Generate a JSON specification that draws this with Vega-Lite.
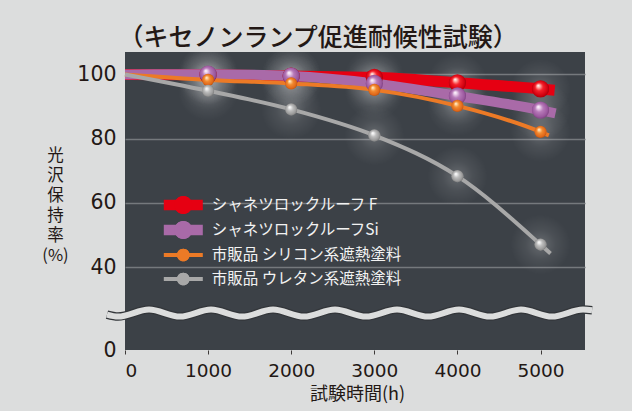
{
  "$schema": "https://vega.github.io/schema/vega-lite/v6.json",
  "width": 460,
  "height": 298,
  "autosize": "none",
  "padding": {"left": 125, "top": 52, "right": 47, "bottom": 61},
  "background": "#dcdddd",
  "title": {
    "text": "（キセノンランプ促進耐候性試験）",
    "font": "Noto Sans CJK JP",
    "fontSize": 25,
    "fontWeight": 500,
    "color": "#231815",
    "anchor": "middle",
    "dx": -37,
    "offset": 1.5
  },
  "datasets": {
    "series": [
      {"series": "シャネツロックルーフ F", "x": 0, "y": 100},
      {"series": "シャネツロックルーフ F", "x": 1000, "y": 99.9},
      {"series": "シャネツロックルーフ F", "x": 2000, "y": 99.5},
      {"series": "シャネツロックルーフ F", "x": 3000, "y": 99.1},
      {"series": "シャネツロックルーフ F", "x": 4000, "y": 97.4},
      {"series": "シャネツロックルーフ F", "x": 5000, "y": 95.5},
      {"series": "シャネツロックルーフ F", "x": 5170, "y": 95.1},
      {"series": "シャネツロックルーフSi", "x": 0, "y": 100},
      {"series": "シャネツロックルーフSi", "x": 1000, "y": 100.1},
      {"series": "シャネツロックルーフSi", "x": 2000, "y": 99.5},
      {"series": "シャネツロックルーフSi", "x": 3000, "y": 97.2},
      {"series": "シャネツロックルーフSi", "x": 4000, "y": 93.3},
      {"series": "シャネツロックルーフSi", "x": 5000, "y": 88.9},
      {"series": "シャネツロックルーフSi", "x": 5180, "y": 87.9},
      {"series": "市販品 シリコン系遮熱塗料", "x": 0, "y": 100},
      {"series": "市販品 シリコン系遮熱塗料", "x": 1000, "y": 98.3},
      {"series": "市販品 シリコン系遮熱塗料", "x": 2000, "y": 97.2},
      {"series": "市販品 シリコン系遮熱塗料", "x": 3000, "y": 95.2},
      {"series": "市販品 シリコン系遮熱塗料", "x": 4000, "y": 90.2},
      {"series": "市販品 シリコン系遮熱塗料", "x": 5000, "y": 82.1},
      {"series": "市販品 シリコン系遮熱塗料", "x": 5100, "y": 81.0},
      {"series": "市販品 ウレタン系遮熱塗料", "x": 0, "y": 100},
      {"series": "市販品 ウレタン系遮熱塗料", "x": 1000, "y": 94.9},
      {"series": "市販品 ウレタン系遮熱塗料", "x": 2000, "y": 89.1},
      {"series": "市販品 ウレタン系遮熱塗料", "x": 3000, "y": 81.0},
      {"series": "市販品 ウレタン系遮熱塗料", "x": 4000, "y": 68.3},
      {"series": "市販品 ウレタン系遮熱塗料", "x": 5000, "y": 47.0},
      {"series": "市販品 ウレタン系遮熱塗料", "x": 5120, "y": 44.2}
    ],
    "wave": [
      {"x": -217, "y": 17.05},
      {"x": -84, "y": 16.1},
      {"x": 289, "y": 19.5},
      {"x": 662, "y": 16.1},
      {"x": 1035, "y": 19.5},
      {"x": 1408, "y": 16.1},
      {"x": 1781, "y": 19.5},
      {"x": 2154, "y": 16.1},
      {"x": 2527, "y": 19.5},
      {"x": 2900, "y": 16.1},
      {"x": 3273, "y": 19.5},
      {"x": 3646, "y": 16.1},
      {"x": 4019, "y": 19.5},
      {"x": 4392, "y": 16.1},
      {"x": 4765, "y": 19.5},
      {"x": 5138, "y": 16.1},
      {"x": 5511, "y": 19.5},
      {"x": 5620, "y": 19.2}
    ]
  },
  "encoding": {
    "x": {
      "field": "x",
      "type": "quantitative",
      "scale": {"domain": [0, 5535], "nice": false, "zero": false},
      "axis": {
        "values": [0, 1000, 2000, 3000, 4000, 5000],
        "format": "d",
        "title": "試験時間(h)",
        "grid": false,
        "domain": false,
        "ticks": true,
        "tickSize": 4,
        "tickColor": "#3e3a39",
        "tickWidth": 1,
        "labelFont": "DejaVu Sans",
        "labelFontSize": 18.5,
        "labelColor": "#231815",
        "labelPadding": 7,
        "titleFont": "Noto Sans CJK JP",
        "titleFontSize": 18,
        "titleFontWeight": "normal",
        "titleColor": "#231815",
        "titleX": 232,
        "titleY": 44.5,
        "titleBaseline": "middle"
      }
    },
    "y": {
      "field": "y",
      "type": "quantitative",
      "scale": {"domain": [0, 40, 107], "range": [298, 215, 0], "nice": false, "zero": false},
      "axis": {
        "values": [0, 40, 60, 80, 100],
        "title": ["光", "沢", "保", "持", "率", "(%)"],
        "titleAngle": 0,
        "titleAlign": "center",
        "titleBaseline": "top",
        "titleX": -70,
        "titleY": 95,
        "titleLineHeight": 20,
        "titleFont": "Noto Sans CJK JP",
        "titleFontSize": 16.5,
        "titleFontWeight": "normal",
        "titleColor": "#231815",
        "domain": false,
        "ticks": false,
        "tickSize": 0,
        "labelPadding": 9,
        "labelFont": "DejaVu Sans",
        "labelFontSize": 20.5,
        "labelColor": "#231815",
        "grid": true,
        "gridColor": "#75797d",
        "gridWidth": 1.3,
        "gridOpacity": {"condition": {"test": "datum.value === 0", "value": 0}, "value": 1}
      }
    }
  },
  "layer": [
    {
      "data": {"name": "series"},
      "transform": [{"filter": "datum.x >= 1000 && datum.x <= 5000"}],
      "mark": {
        "type": "point",
        "filled": true,
        "shape": "circle",
        "size": 3600,
        "clip": true,
        "strokeWidth": 0,
        "opacity": 1,
        "fill": {
          "gradient": "radial",
          "x1": 0.5, "y1": 0.5, "r1": 0,
          "x2": 0.5, "y2": 0.5, "r2": 0.5,
          "stops": [
            {"offset": 0, "color": "rgba(255,255,255,0.22)"},
            {"offset": 0.5, "color": "rgba(255,255,255,0.08)"},
            {"offset": 1, "color": "rgba(255,255,255,0)"}
          ]
        }
      }
    },
    {
      "data": {"name": "series"},
      "mark": {"type": "line", "interpolate": "monotone", "strokeCap": "butt"},
      "encoding": {
        "stroke": {
          "field": "series",
          "type": "nominal",
          "scale": {
            "domain": ["シャネツロックルーフ F", "シャネツロックルーフSi", "市販品 シリコン系遮熱塗料", "市販品 ウレタン系遮熱塗料"],
            "range": ["#e60012", "#a96aa8", "#ec7a26", "#a8a8a8"]
          },
          "legend": {
            "orient": "none",
            "legendX": 42.8,
            "legendY": 137.5,
            "title": null,
            "padding": 0,
            "symbolSize": 961,
            "symbolStrokeWidth": 0,
            "rowPadding": 0,
            "labelOffset": 12.9,
            "labelFont": "Noto Sans CJK JP",
            "labelFontSize": 15.5,
            "labelColor": "#f2f2f2",
            "labelLimit": 400,
            "zindex": 1,
            "encode": {
              "symbols": {
                "update": {
                  "shape": {"signal": "datum.index < 2 ? 'M-1.258,-0.345H1.258V0.345H-1.258Z M0.58,0A0.58,0.58,0,1,1,-0.58,0A0.58,0.58,0,1,1,0.58,0Z' : 'M-1.258,-0.129H1.258V0.129H-1.258Z M0.406,0A0.406,0.406,0,1,1,-0.406,0A0.406,0.406,0,1,1,0.406,0Z'"},
                  "fill": {"scale": "stroke", "field": "value"},
                  "stroke": {"value": "transparent"},
                  "strokeWidth": {"value": 0},
                  "opacity": {"value": 1},
                  "fillOpacity": {"value": 1}
                }
              }
            }
          }
        },
        "strokeWidth": {
          "field": "series",
          "type": "nominal",
          "scale": {
            "type": "ordinal",
            "domain": ["シャネツロックルーフ F", "シャネツロックルーフSi", "市販品 シリコン系遮熱塗料", "市販品 ウレタン系遮熱塗料"],
            "range": [11, 10, 4, 4]
          },
          "legend": null
        }
      }
    },
    {
      "data": {"name": "series"},
      "transform": [{"filter": "datum.x >= 1000 && datum.x <= 5000"}],
      "mark": {"type": "point", "filled": true, "shape": "circle", "strokeWidth": 0, "opacity": 0, "size": 150},
      "encoding": {
        "fill": {
          "field": "series",
          "type": "nominal",
          "scale": {
            "domain": ["シャネツロックルーフ F", "シャネツロックルーフSi", "市販品 シリコン系遮熱塗料", "市販品 ウレタン系遮熱塗料"],
            "range": ["#e60012", "#a96aa8", "#ec7a26", "#a8a8a8"]
          },
          "legend": {
            "orient": "none",
            "legendX": 42.8,
            "legendY": 137.5,
            "title": null,
            "padding": 0,
            "symbolSize": 961,
            "symbolStrokeWidth": 0,
            "rowPadding": 0,
            "labelOffset": 12.9,
            "labelFont": "Noto Sans CJK JP",
            "labelFontSize": 15.5,
            "labelColor": "#f2f2f2",
            "labelOpacity": 0,
            "labelLimit": 400,
            "zindex": 2,
            "encode": {
              "symbols": {
                "update": {
                  "shape": {"signal": "datum.index < 2 ? 'M0.58,0A0.58,0.58,0,1,1,-0.58,0A0.58,0.58,0,1,1,0.58,0Z' : 'M0.406,0A0.406,0.406,0,1,1,-0.406,0A0.406,0.406,0,1,1,0.406,0Z'"},
                  "fill": {"signal": "{gradient: 'radial', x1: 0.36, y1: 0.3, r1: 0, x2: 0.5, y2: 0.5, r2: 0.55, stops: datum.index == 0 ? [{offset: 0, color: '#ffffff'}, {offset: 0.14, color: '#ffc0b8'}, {offset: 0.42, color: '#f5202a'}, {offset: 0.8, color: '#d0000f'}, {offset: 1, color: '#900008'}] : datum.index == 1 ? [{offset: 0, color: '#ffffff'}, {offset: 0.14, color: '#f0d8f0'}, {offset: 0.42, color: '#b77ab9'}, {offset: 0.8, color: '#9a579d'}, {offset: 1, color: '#6e3672'}] : datum.index == 2 ? [{offset: 0, color: '#ffffff'}, {offset: 0.14, color: '#ffd6a0'}, {offset: 0.42, color: '#f28a30'}, {offset: 0.8, color: '#e0681a'}, {offset: 1, color: '#a84a0c'}] : [{offset: 0, color: '#ffffff'}, {offset: 0.14, color: '#f0f0f0'}, {offset: 0.42, color: '#bdbdbd'}, {offset: 0.8, color: '#9a9a9a'}, {offset: 1, color: '#6a6a6a'}]}"},
                  "stroke": {"value": "transparent"},
                  "strokeWidth": {"value": 0},
                  "opacity": {"value": 1},
                  "fillOpacity": {"value": 1}
                }
              }
            }
          }
        }
      }
    },
    {
      "data": {"name": "series"},
      "transform": [{"filter": "datum.x >= 1000 && datum.x <= 5000 && datum.series === 'シャネツロックルーフ F'"}],
      "mark": {"type": "point", "filled": true, "shape": "circle", "strokeWidth": 0, "opacity": 1, "size": 300,
        "fill": {"gradient": "radial", "x1": 0.36, "y1": 0.3, "r1": 0, "x2": 0.5, "y2": 0.5, "r2": 0.55,
          "stops": [{"offset": 0, "color": "#ffffff"}, {"offset": 0.14, "color": "#ffc0b8"}, {"offset": 0.42, "color": "#f5202a"}, {"offset": 0.8, "color": "#d0000f"}, {"offset": 1, "color": "#900008"}]}}
    },
    {
      "data": {"name": "series"},
      "transform": [{"filter": "datum.x >= 1000 && datum.x <= 5000 && datum.series === 'シャネツロックルーフSi'"}],
      "mark": {"type": "point", "filled": true, "shape": "circle", "strokeWidth": 0, "opacity": 1, "size": 300,
        "fill": {"gradient": "radial", "x1": 0.36, "y1": 0.3, "r1": 0, "x2": 0.5, "y2": 0.5, "r2": 0.55,
          "stops": [{"offset": 0, "color": "#ffffff"}, {"offset": 0.14, "color": "#f0d8f0"}, {"offset": 0.42, "color": "#b77ab9"}, {"offset": 0.8, "color": "#9a579d"}, {"offset": 1, "color": "#6e3672"}]}}
    },
    {
      "data": {"name": "series"},
      "transform": [{"filter": "datum.x >= 1000 && datum.x <= 5000 && datum.series === '市販品 シリコン系遮熱塗料'"}],
      "mark": {"type": "point", "filled": true, "shape": "circle", "strokeWidth": 0, "opacity": 1, "size": 150,
        "fill": {"gradient": "radial", "x1": 0.36, "y1": 0.3, "r1": 0, "x2": 0.5, "y2": 0.5, "r2": 0.55,
          "stops": [{"offset": 0, "color": "#ffffff"}, {"offset": 0.14, "color": "#ffd6a0"}, {"offset": 0.42, "color": "#f28a30"}, {"offset": 0.8, "color": "#e0681a"}, {"offset": 1, "color": "#a84a0c"}]}}
    },
    {
      "data": {"name": "series"},
      "transform": [{"filter": "datum.x >= 1000 && datum.x <= 5000 && datum.series === '市販品 ウレタン系遮熱塗料'"}],
      "mark": {"type": "point", "filled": true, "shape": "circle", "strokeWidth": 0, "opacity": 1, "size": 150,
        "fill": {"gradient": "radial", "x1": 0.36, "y1": 0.3, "r1": 0, "x2": 0.5, "y2": 0.5, "r2": 0.55,
          "stops": [{"offset": 0, "color": "#ffffff"}, {"offset": 0.14, "color": "#f0f0f0"}, {"offset": 0.42, "color": "#bdbdbd"}, {"offset": 0.8, "color": "#9a9a9a"}, {"offset": 1, "color": "#6a6a6a"}]}}
    },
    {
      "data": {"name": "wave"},
      "mark": {"type": "line", "interpolate": "monotone", "clip": false, "strokeWidth": 8.5, "color": "#33363a", "strokeCap": "butt"}
    },
    {
      "data": {"name": "wave"},
      "mark": {"type": "line", "interpolate": "monotone", "clip": false, "strokeWidth": 6, "color": "#dcdddd", "strokeCap": "butt"}
    }
  ],
  "resolve": {"legend": {"stroke": "independent", "fill": "independent"}},
  "config": {
    "view": {"fill": "#3c4147", "stroke": null},
    "font": "Noto Sans CJK JP"
  }
}
